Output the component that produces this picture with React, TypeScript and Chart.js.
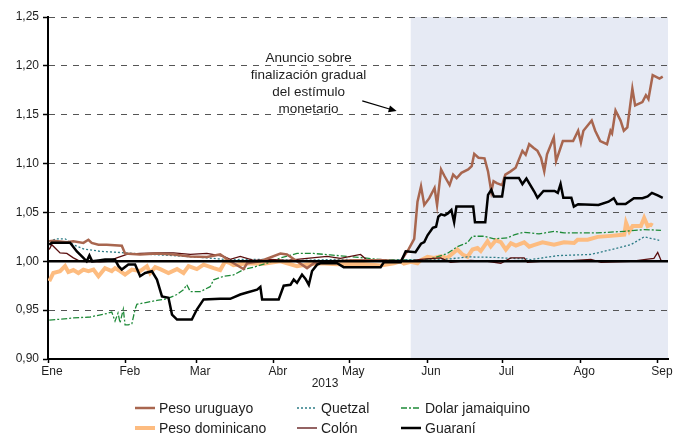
import React, { useEffect, useRef } from 'react';
import { Chart, registerables } from 'chart.js';

Chart.register(...registerables);

// ---- Axis / label data ----
const monthStarts = [0, 31, 59, 90, 120, 151, 181, 212, 243]; // day of year 2013 (0 = 1 Ene)
const monthLabels = ['Ene', 'Feb', 'Mar', 'Abr', 'May', 'Jun', 'Jul', 'Ago', 'Sep'];
const yTicks = [0.9, 0.95, 1.0, 1.05, 1.1, 1.15, 1.2, 1.25];
const xMaxDay = 247;
const yearLabel = '2013';
const shadeStartDay = 144.5;
const annotationLines = ['Anuncio sobre', 'finalización gradual', 'del estímulo', 'monetario'];
const annotationTextDay = 103.8;
const annotationTextValue = 1.2077;
const arrowFrom: [number, number] = [125.2, 1.1642];
const arrowTo: [number, number] = [138.9, 1.1537];

// ---- Series: [day, index value] ----
const pesoUruguayo: [number, number][] = [
  [0.5, 1.0204], [2.1, 1.021], [7.5, 1.0194], [10.1, 1.0204], [14.1, 1.0188], [16.1, 1.022], [17.4, 1.0188],
  [20.1, 1.017], [23.4, 1.017], [29.4, 1.016], [30.7, 1.008], [36.7, 1.007], [43.4, 1.008], [50, 1.007],
  [56.7, 1.005], [63.3, 1.0045], [68.6, 1.007], [72.6, 1.0], [77.9, 0.992], [79.3, 0.998], [84.6, 1.0],
  [92.6, 1.008], [95.2, 1.007], [99.2, 1.0], [103.2, 0.993], [105.9, 0.998], [112.5, 1.0], [121.8, 1.001],
  [132.5, 1.001], [140.5, 1.0], [141.8, 1.005], [143.8, 1.013], [145.9, 1.023], [147.2, 1.061], [148.6, 1.0767],
  [149.9, 1.0576], [151.9, 1.0646], [154, 1.075], [155, 1.0576], [156.6, 1.094], [158, 1.087], [160, 1.078],
  [161.4, 1.0887], [162.8, 1.085], [164.7, 1.0905], [167.4, 1.094], [168.8, 1.0974], [169.8, 1.11],
  [171.5, 1.106], [173.9, 1.1054], [175.3, 1.092], [176.6, 1.0714], [177.5, 1.0819], [178.8, 1.08],
  [180.9, 1.078], [182.2, 1.0887], [184.3, 1.092], [186.3, 1.0957], [189, 1.113], [190.3, 1.109],
  [191.7, 1.1198], [193.5, 1.116], [195, 1.113], [196.4, 1.106], [197.7, 1.092], [198.8, 1.1094],
  [201.5, 1.1267], [202.4, 1.1025], [205.1, 1.123], [209.2, 1.123], [211.2, 1.1336], [212.3, 1.1215],
  [213.3, 1.1336], [216.6, 1.144], [218, 1.1336], [220, 1.123], [222.7, 1.1198], [224.1, 1.1336],
  [224.7, 1.131], [226.1, 1.1543], [228.1, 1.144], [229.4, 1.1336], [230.8, 1.137], [232.8, 1.1768],
  [233.9, 1.1595], [236.8, 1.163], [238.2, 1.17], [239.2, 1.166], [240.9, 1.1906], [243.6, 1.187], [244.9, 1.189],
];

const pesoDominicano: [number, number][] = [
  [0.5, 0.9796], [2.1, 0.988], [4.8, 0.9898], [6.8, 0.995], [8.1, 0.989], [10.1, 0.991], [12.1, 0.988],
  [14.1, 0.9915], [16.1, 0.99], [18.1, 0.9915], [20.1, 0.9847], [22.7, 0.993], [25.4, 0.99], [26.7, 0.993],
  [28.7, 0.99], [30.7, 0.9864], [33.4, 0.9915], [36.7, 0.99], [39.4, 0.995], [40.7, 0.988], [42.7, 0.994],
  [44.7, 0.992], [48, 0.988], [51.4, 0.992], [54, 0.988], [56, 0.995], [59.3, 0.992], [62, 0.9966],
  [66, 0.993], [68.6, 0.991], [70.6, 1.0], [72.6, 0.998], [73.9, 0.996], [79.3, 0.998], [85.9, 0.9975],
  [92.6, 1.0], [99.2, 0.995], [103.2, 0.9966], [108.5, 0.998], [115.2, 0.997], [124.5, 0.9975],
  [132.5, 0.9956], [137.8, 0.998], [140.5, 1.0], [141.8, 0.9977], [144.5, 0.9995], [147.2, 0.998],
  [148.4, 1.001], [151.2, 1.0045], [153.8, 1.0035], [156.4, 1.005], [159.1, 1.0035], [163.1, 1.012],
  [165.1, 1.007], [167.1, 1.0045], [169.1, 1.012], [171.1, 1.0135], [172.4, 1.0105], [175.1, 1.0204],
  [176.4, 1.0153], [178.4, 1.0215], [180.4, 1.0195], [182.4, 1.012], [184.4, 1.0185], [186.4, 1.016],
  [189.7, 1.0194], [191.7, 1.015], [193.5, 1.0165], [197, 1.0194], [201.6, 1.017], [205.6, 1.0194],
  [209.6, 1.0188], [211, 1.022], [215, 1.022], [219, 1.025], [224.3, 1.026], [229.6, 1.0273],
  [230.3, 1.0392], [231.6, 1.0307], [232.9, 1.036], [236.2, 1.036], [237.5, 1.0444], [238.9, 1.036],
  [240.2, 1.0375], [240.9, 1.0365],
];

const quetzal: [number, number][] = [
  [0.5, 1.0204], [3.5, 1.023], [6.8, 1.023], [10.1, 1.017], [14.1, 1.0127], [20.8, 1.0102], [28.7, 1.009],
  [36.7, 1.0076], [50, 1.0058], [63.3, 1.0035], [71.3, 1.0017], [84.6, 1.002], [100.6, 1.001],
  [116.5, 1.002], [132.5, 1.001], [140.5, 1.0017], [153.8, 1.0017], [160.4, 1.0025], [167.1, 1.0045],
  [177.7, 1.004], [184.4, 1.003], [191, 1.0024], [192.3, 1.0017], [203, 1.0058], [216.3, 1.007],
  [225.6, 1.0127], [232.2, 1.017], [237.5, 1.025], [243.5, 1.0215],
];

const dolarJamaiquino: [number, number][] = [
  [0.5, 0.9397], [10.1, 0.942], [16.8, 0.943], [23.4, 0.9465], [25.4, 0.948], [26.7, 0.9387], [27.9, 0.947],
  [28.7, 0.937], [30, 0.951], [30.7, 0.935], [32, 0.935], [33.4, 0.936], [34.7, 0.951], [35.4, 0.956],
  [39.4, 0.958], [43.4, 0.96], [47.4, 0.9616], [51.4, 0.966], [54, 0.971], [55.3, 0.976], [56.7, 0.969],
  [60.7, 0.969], [64.6, 0.974], [66, 0.981], [70, 0.9847], [73.9, 0.986], [77.9, 0.9915], [81.9, 0.994],
  [87.3, 0.998], [92.6, 1.0035], [99.2, 1.008], [105.9, 1.008], [112.5, 1.0065], [119.2, 1.005],
  [125.8, 1.0035], [132.5, 1.0017], [140.5, 1.0017], [148.4, 1.001], [153.8, 1.0035], [159.1, 1.008],
  [163.1, 1.015], [167.1, 1.019], [169.1, 1.0256], [173.7, 1.0256], [177.7, 1.023], [183, 1.024],
  [185.7, 1.027], [189.6, 1.0297], [195.6, 1.028], [201.6, 1.0307], [205.6, 1.029], [218.9, 1.029],
  [229.6, 1.0307], [237.5, 1.0324], [244.2, 1.0317],
];

const colon: [number, number][] = [
  [0.5, 1.012], [1.5, 1.017], [4.8, 1.0086], [7.5, 1.008], [10.1, 1.0035], [12.8, 1.0], [20.8, 0.9994],
  [23.9, 1.0], [27.4, 1.0035], [31.4, 1.007], [36.7, 1.008], [43.4, 1.0086], [50, 1.0086], [56.7, 1.007],
  [63.3, 1.008], [70, 1.005], [72.6, 1.002], [76.6, 1.005], [81.9, 1.001], [88.6, 1.002], [95.2, 1.001],
  [103.2, 1.003], [111.2, 1.005], [116.5, 1.003], [124.5, 1.007], [127.2, 1.001], [132.5, 1.002],
  [137.8, 1.0], [143.1, 1.0], [148.4, 1.002], [156.4, 1.0035], [160.4, 0.999], [168.4, 1.001],
  [175.1, 1.0], [180.4, 0.998], [184.4, 1.0035], [189.7, 1.0035], [191, 0.999], [196.3, 1.0],
  [204.3, 1.0], [216.3, 1.002], [220.3, 0.999], [232.2, 1.0], [238.2, 1.002], [241.4, 1.003],
  [242.9, 1.009], [244.2, 1.001],
];

const guarani: [number, number][] = [
  [0.5, 1.017], [1.5, 1.019], [8.8, 1.019], [11.5, 1.01], [14.1, 1.0035], [15.4, 1.0], [16.5, 1.006],
  [17.6, 1.0], [20.8, 1.001], [22.7, 1.0017], [26.7, 1.0017], [28.1, 0.995], [29.4, 0.9915], [32, 0.9966],
  [34.7, 0.9966], [36.7, 0.9847], [38.7, 0.988], [41.4, 0.9898], [43.4, 0.9813], [45.4, 0.964], [48, 0.9626],
  [49.4, 0.9455], [51.4, 0.9404], [57.3, 0.9404], [59.3, 0.9506], [62, 0.961], [68.6, 0.9616], [72.6, 0.9616],
  [76.6, 0.966], [79.3, 0.968], [83.3, 0.971], [84.6, 0.9738], [85.3, 0.961], [91.9, 0.961], [93.9, 0.975],
  [96.6, 0.976], [97.9, 0.9813], [99.2, 0.978], [101.2, 0.9864], [102.6, 0.982], [103.9, 0.976],
  [105.2, 0.99], [107.2, 0.9966], [108.5, 0.998], [115.2, 0.998], [117.8, 0.994], [132.5, 0.994],
  [133.8, 0.999], [140.5, 0.999], [142.5, 1.0102], [146.4, 1.0093], [148.6, 1.018], [149.9, 1.0197],
  [151.2, 1.0266], [153.3, 1.0342], [154.6, 1.0353], [155.5, 1.0456], [156.6, 1.048], [158, 1.047],
  [159.3, 1.049], [160.7, 1.0525], [161.8, 1.04], [162.7, 1.056], [169.4, 1.056], [170.1, 1.04],
  [174.2, 1.04], [175.3, 1.068], [176.6, 1.0732], [177.6, 1.0663], [180.9, 1.0663], [182, 1.0853],
  [187.6, 1.0853], [189, 1.079], [190.6, 1.0846], [193.7, 1.0714], [195, 1.065], [197.4, 1.072],
  [201.8, 1.072], [203.1, 1.07], [204.2, 1.079], [205.3, 1.065], [208.5, 1.065], [209.5, 1.056],
  [211.2, 1.0584], [219.3, 1.0576], [223.3, 1.061], [225.4, 1.0646], [226.7, 1.0587], [230.1, 1.0587],
  [233.4, 1.0646], [236.8, 1.0646], [238.9, 1.0663], [240.6, 1.07], [242.9, 1.0674], [244.9, 1.065],
];

const FONT = 'Arial, "Liberation Sans", Helvetica, sans-serif';
const TEXT = '#1e1e1e';

type SeriesDef = {
  label: string;
  data: [number, number][];
  color: string;
  width: number;
  dash: number[];
  order: number;
};

// listed in legend order (row by row, three columns)
const seriesDefs: SeriesDef[] = [
  { label: 'Peso uruguayo', data: pesoUruguayo, color: '#A8664F', width: 2.5, dash: [], order: 1 },
  { label: 'Quetzal', data: quetzal, color: '#2C7C86', width: 1.3, dash: [2, 2], order: 3 },
  { label: 'Dolar jamaiquino', data: dolarJamaiquino, color: '#1E8A38', width: 1.3, dash: [6, 2, 2, 2], order: 4 },
  { label: 'Peso dominicano', data: pesoDominicano, color: '#FDBC80', width: 4, dash: [], order: 5 },
  { label: 'Colón', data: colon, color: '#5A0E0E', width: 1.3, dash: [], order: 2 },
  { label: 'Guaraní', data: guarani, color: '#000000', width: 2.5, dash: [], order: 0 },
];

const legendColX = [135, 297, 401];
const legendRowY = [408, 428];

const overlayPlugin = {
  id: 'overlay',
  beforeDraw(chart: any) {
    const { ctx, chartArea, scales } = chart;
    const x0 = scales.x.getPixelForValue(shadeStartDay);
    ctx.save();
    ctx.fillStyle = '#E6EAF4';
    ctx.fillRect(x0, chartArea.top, chartArea.right - x0, chartArea.bottom - chartArea.top);
    ctx.restore();
  },
  afterDatasetsDraw(chart: any) {
    const { ctx, chartArea, scales } = chart;
    const xs = scales.x;
    const ys = scales.y;
    ctx.save();
    // 1.00 reference line
    const y1 = ys.getPixelForValue(1);
    ctx.strokeStyle = '#000';
    ctx.lineWidth = 2.5;
    ctx.beginPath();
    ctx.moveTo(chartArea.left, y1);
    ctx.lineTo(chartArea.right, y1);
    ctx.stroke();

    // annotation text
    ctx.fillStyle = TEXT;
    ctx.font = `13.5px ${FONT}`;
    ctx.textAlign = 'center';
    ctx.textBaseline = 'middle';
    const tx = xs.getPixelForValue(annotationTextDay);
    const ty = ys.getPixelForValue(annotationTextValue);
    annotationLines.forEach((line, i) => {
      ctx.fillText(line, tx, ty + i * 17);
    });

    // arrow
    const ax1 = xs.getPixelForValue(arrowFrom[0]);
    const ay1 = ys.getPixelForValue(arrowFrom[1]);
    const ax2 = xs.getPixelForValue(arrowTo[0]);
    const ay2 = ys.getPixelForValue(arrowTo[1]);
    const ang = Math.atan2(ay2 - ay1, ax2 - ax1);
    ctx.strokeStyle = '#000';
    ctx.lineWidth = 1.2;
    ctx.beginPath();
    ctx.moveTo(ax1, ay1);
    ctx.lineTo(ax2 - 4 * Math.cos(ang), ay2 - 4 * Math.sin(ang));
    ctx.stroke();
    ctx.fillStyle = '#000';
    ctx.beginPath();
    ctx.moveTo(ax2, ay2);
    ctx.lineTo(ax2 - 8 * Math.cos(ang) + 3.5 * Math.sin(ang), ay2 - 8 * Math.sin(ang) - 3.5 * Math.cos(ang));
    ctx.lineTo(ax2 - 8 * Math.cos(ang) - 3.5 * Math.sin(ang), ay2 - 8 * Math.sin(ang) + 3.5 * Math.cos(ang));
    ctx.closePath();
    ctx.fill();

    // year label
    ctx.fillStyle = TEXT;
    ctx.font = `12px ${FONT}`;
    ctx.fillText(yearLabel, chartArea.left + 277, chartArea.bottom + 25);
    ctx.restore();
  },
};

export default function App() {
  const canvasRef = useRef<HTMLCanvasElement | null>(null);

  useEffect(() => {
    const canvas = canvasRef.current;
    if (!canvas) return;
    const chart = new Chart(canvas, {
      type: 'line',
      data: {
        datasets: seriesDefs.map((s) => ({
          label: s.label,
          data: s.data.map(([d, v]) => ({ x: d, y: v })),
          borderColor: s.color,
          backgroundColor: s.color,
          borderWidth: s.width,
          borderDash: s.dash,
          pointRadius: 0,
          tension: 0,
          fill: false,
          order: s.order,
        })),
      },
      options: {
        responsive: false,
        animation: false,
        events: [],
        layout: { padding: { top: 17, right: 6, left: 0, bottom: 0 } },
        plugins: {
          legend: { display: false },
          tooltip: { enabled: false },
        },
        scales: {
          x: {
            type: 'linear',
            min: 0,
            max: xMaxDay,
            afterBuildTicks: (scale: any) => {
              scale.ticks = monthStarts.map((v) => ({ value: v }));
            },
            afterFit: (scale: any) => {
              scale.height = 77;
            },
            ticks: {
              autoSkip: false,
              maxRotation: 0,
              padding: 1,
              labelOffset: 4,
              color: TEXT,
              font: { family: FONT, size: 12 },
              callback: (value: any) => {
                const i = monthStarts.indexOf(Number(value));
                return i >= 0 ? monthLabels[i] : '';
              },
            },
            grid: {
              drawOnChartArea: false,
              drawTicks: true,
              tickLength: 4,
              tickColor: '#000',
              tickWidth: 1.5,
            },
            border: { display: true, color: '#000', width: 2 },
          },
          y: {
            type: 'linear',
            min: 0.9,
            max: 1.25,
            afterBuildTicks: (scale: any) => {
              scale.ticks = yTicks.map((v) => ({ value: v }));
            },
            afterFit: (scale: any) => {
              scale.width = 48;
            },
            ticks: {
              padding: 4,
              color: TEXT,
              font: { family: FONT, size: 12 },
              callback: (value: any) => Number(value).toFixed(2).replace('.', ','),
            },
            grid: {
              drawTicks: true,
              tickLength: 5,
              tickColor: '#000',
              tickWidth: 1.5,
              lineWidth: 1,
              color: (ctx: any) => {
                const v = ctx.tick ? ctx.tick.value : null;
                if (v == null) return '#555';
                if (Math.abs(v - 1) < 1e-6 || Math.abs(v - 0.9) < 1e-6) return 'rgba(0,0,0,0)';
                return '#555';
              },
            },
            border: { display: true, color: '#000', width: 2, dash: [6, 6] },
          },
        },
      },
      plugins: [overlayPlugin],
    } as any);
    return () => chart.destroy();
  }, []);

  return (
    <div style={{ position: 'fixed', left: 0, top: 0, width: 674, height: 436, background: '#fff' }}>
      <canvas ref={canvasRef} width={674} height={436} style={{ position: 'absolute', left: 0, top: 0, display: 'block' }} />
      {seriesDefs.map((s, i) => {
        const col = i % 3;
        const row = Math.floor(i / 3);
        return (
          <div
            key={s.label}
            style={{
              position: 'absolute',
              left: legendColX[col],
              top: legendRowY[row] - 10,
              height: 20,
              display: 'flex',
              alignItems: 'center',
              font: `14px ${FONT}`,
              color: TEXT,
              whiteSpace: 'nowrap',
            }}
          >
            <svg width={20} height={8} style={{ display: 'block' }}>
              <line
                x1={0}
                y1={4}
                x2={20}
                y2={4}
                stroke={s.color}
                strokeWidth={s.width}
                strokeDasharray={s.dash.length ? s.dash.join(' ') : undefined}
              />
            </svg>
            <span style={{ marginLeft: 4 }}>{s.label}</span>
          </div>
        );
      })}
    </div>
  );
}
